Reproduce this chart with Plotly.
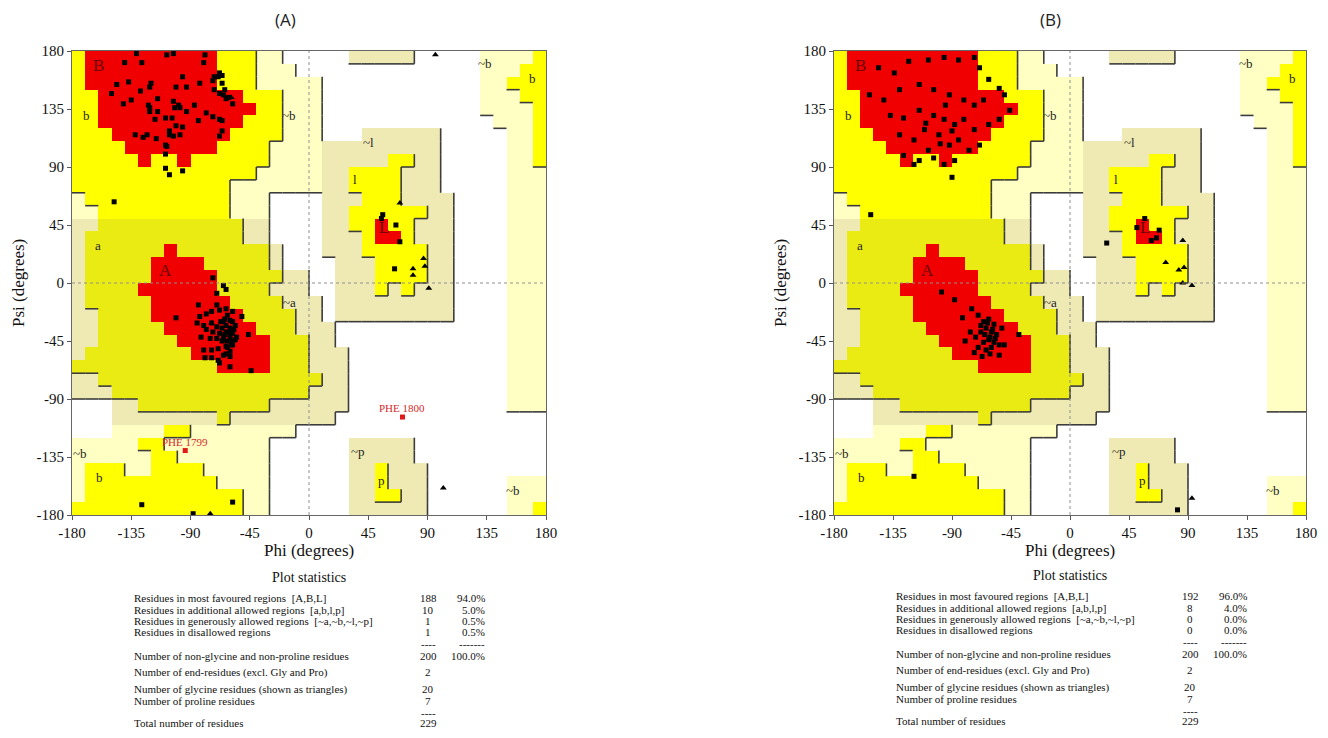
import plotly.graph_objects as go

# ---------------- region map (PROCHECK-style, 10 degree cells) ----------------
# rows run from psi 180 (top) down to psi -180, columns from phi -180 to 180
# '.' disallowed, 'G' generous (~b), 'K' generous (~a ~l ~p), 'Y' additional, 'A' additional (a), 'R' core
REGION_ROWS = [
    "YRRRRRRRRRRYYYGG.....KKKKK.....GGGGY",
    "YRRRRRRRRRRYYYGGG..............GGGYY",
    "YRRRRRRRRRRYYYGGGGG............GGYYY",
    "YYRRRRRRRRRRRYYYGGG............GGGYY",
    "YYRRRRRRRRRRRRYYGGG............GGGGY",
    "YYRRRRRRRRRRRYYYGGG.............GGGY",
    "YYYRRRRRRRRRYYYYGGG...KKKKKK.....GGY",
    "YYYYRRRRRRRYYYYGGGGKKKKKKKKK.....GGY",
    "YYYYYRYYRYYYYYYGGGGKKKKKYYKK.....GGY",
    "YYYYYYYYYYYYYYGGGGGKKYYYYKKK.....GGG",
    "YYYYYYYYYYYYGGGGGGGKKYYYYKKK.....GGG",
    "GYYYYYYYYYYYGGG....KKKYYYKKKK....GGG",
    "GGYYYYYYYYYYGGG....KKYYYYYYKK....GGG",
    "KKAAAAAAAAAAAKK....KKYYRYYKKK....GGG",
    "KAAAAAAAAAAAAKK....KKKYRRYKKK....GGG",
    "KAAAAAARAAAAAAAK...KKKYYYYYKK....GGG",
    "KAAAAARRRRAAAAAK....KKKYYYYKK....GGG",
    "KAAAAARRRRRAAAAAKK..KKKYYYYKK....GGG",
    "KAAAARRRRRRAAAAKKK..KKKYKYKKK....GGG",
    "KAAAAARRRRRRAAAAKKK.KKKKKKKKK....GGG",
    "KKAAAARRRRRRRAAAAKK.KKKKKKKKK....GGG",
    "KKAAAAARRRRRRRAAAKKK.............GGG",
    "KKAAAAAARRRRRRRAAAKK.............GGG",
    "KAAAAAAAARRRRRRAAAKKK............GGG",
    "AAAAAAAAAAARRRRAAAKKK............GGG",
    "KKAAAAAAAAAAAAAAAAAKK............GGG",
    "KKKAAAAAAAAAAAAAAAKKK............GGG",
    "...KKAAAAAAAAAAKKKKKK............GGG",
    "...KKKKKKKKAKKKKKKKK................",
    "...GGGGYYGGGGGGGG...................",
    "GGGGGYYGGGGGGGG......KKKKK..........",
    "GGGGGGYYGGGGGGG......KKKKK..........",
    "GYYYGGYYYYGGGGG......KKYKKK.........",
    "GYYYYYYYYYYGGGG......KKYKKK......GGG",
    "GYYYYYYYYYYYYGG......KKYYKK......GGG",
    "YYYYYYYYYYYYYGG......KKKKKK......GGY",
]
REGION_CODES = {".": 0, "G": 1, "K": 2, "Y": 3, "A": 4, "R": 5}
REGION_COLORS = ["#FFFFFF", "#FFFFC4", "#EFEAB4", "#FFFF00", "#EBEB14", "#F00000"]
PHI_CENTERS = [-175 + 10 * i for i in range(36)]
PSI_CENTERS = [175 - 10 * i for i in range(36)]

TICK_VALUES = [-180, -135, -90, -45, 0, 45, 90, 135, 180]
TICK_LABELS = ["-180", "-135", "-90", "-45", "0", "45", "90", "135", "180"]

REGION_LABEL_TEXT = ["B", "b", "~b", "a", "A", "~a", "~l", "l", "L", "~b", "b", "~b", "b", "~p", "p", "~b"]
REGION_LABEL_PHI = [-160, -169, -15, -160, -109, -15, 45, 35, 57, 134, 170, -174, -159, 37, 55, 155]
REGION_LABEL_PSI = [169, 130, 130, 29, 10, -15, 109, 80, 43, 170, 159, -132, -151, -131, -153, -161]

# ---------------- residues, panel A ----------------
A_RES_PHI = [-131, -108, -103, -79, -140, -127, -80, -68, -72, -96, -120, -146, -137, -150, -128, -121,
             -101, -93, -83, -73, -64, -65, -61, -141, -135, -115, -122, -121, -103, -99, -102, -98,
             -87, -121, -115, -93, -78, -73, -68, -104, -109, -117, -101, -96, -106, -84, -66, -132,
             -126, -123, -116, -106, -103, -98, -109, -108, -109, -109, -106, -96, -148,
             -69, -66, -66, -72, -68, -63, -58, -66, -68,
             -73, -65, -63, -70, -84, -70, -101, -83, -78, -74, -68, -63, -58, -51, -85, -80, -74, -70,
             -65, -60, -56, -78, -73, -68, -63, -58, -82, -75, -70, -65, -60, -55, -46, -80, -74, -69,
             -63, -58, -79, -74, -69, -65, -60, -68, -60, -44,
             -62, -60, -58, -64, -66, -62, -60, -56, -64, -58, -66, -62, -60, -63, -57, -59, -65, -61,
             -63, -67,
             -127, -58, -88,
             56, 55, 66, 69, 65]
A_RES_PSI = [178, 177, 178, 177, 171, 171, 171, 163, 160, 160, 155, 154, 156, 147, 149, 152,
             152, 152, 155, 157, 150, 146, 144, 139, 142, 143, 138, 136, 141, 138, 136, 136,
             138, 133, 133, 133, 132, 129, 127, 128, 128, 127, 122, 121, 118, 126, 118, 115,
             113, 115, 112, 115, 114, 115, 107, 106, 100, 89, 84, 87, 63,
             160, 161, 155, 150, 147, 143, 139, 126, 114,
             4, -2, -5, -8, -17, -17, -27, -26, -24, -22, -21, -20, -22, -26, -31, -33, -31, -34,
             -30, -29, -33, -36, -38, -39, -38, -39, -42, -43, -43, -44, -43, -42, -40, -52, -52, -51,
             -49, -48, -58, -58, -60, -56, -57, -62, -65, -68,
             -25, -35, -45, -40, -35, -45, -40, -44, -28, -30, -45, -50, -53, -33, -36, -48, -42, -38,
             -55, -30,
             -172, -170, -179,
             53, 50, 45, 32, 11]
A_GLY_PHI = [96, -59, -74, -75, 69, 87, 79, 88, 79, 91, 102]
A_GLY_PSI = [177, 144, -31, -179, 62, 19, 11, 13, 6, -4, -159]
A_FLAG_NAME = ["PHE 1799", "PHE 1800"]
A_FLAG_PHI = [-94, 71]
A_FLAG_PSI = [-130, -104]

# ---------------- residues, panel B ----------------
B_RES_PHI = [-146, -134, -123, -108, -96, -85, -73, -69, -62, -54, -50, -153, -142, -130, -115, -104,
             -92, -81, -73, -66, -137, -127, -115, -104, -96, -88, -81, -73, -62, -54, -46, -130,
             -119, -111, -100, -92, -85, -77, -69, -127, -115, -104, -96, -88, -119, -108, -99, -90,
             -110, -95, -152, -90, -119,
             -98, -88, -82, -75, -70, -66, -62, -58, -64, -60, -56, -68, -72, -62, -58, -66, -70, -64,
             -60, -54, -73, -67, -54, -39, -50, -61, -65, -59, -63, -57, -68, -61, -76, -80, -52,
             57, 51, 66, 28, 62, 68, 82]
B_RES_PSI = [167, 163, 172, 173, 175, 173, 175, 167, 158, 151, 146, 146, 142, 150, 154, 150,
             146, 142, 138, 142, 130, 128, 134, 130, 127, 123, 127, 119, 123, 127, 134, 115,
             111, 119, 115, 107, 111, 103, 107, 99, 95, 97, 92, 95, 92, 103, 108, 118,
             124, 138, 53, 82, -150,
             -7, -13, -27, -20, -25, -30, -28, -32, -35, -38, -40, -38, -42, -44, -46, -46, -50, -52,
             -50, -48, -54, -57, -56, -40, -48, -42, -40, -36, -31, -43, -33, -55, -38, -45, -35,
             50, 43, 35, 31, 33, 41, -176]
B_GLY_PHI = [86, 87, 86, 93, 73, 83, 93]
B_GLY_PSI = [33, 12, 0, -2, 16, 10, -167]

# ---------------- plot statistics ----------------
STAT_LABELS = [
    "Residues in most favoured regions  [A,B,L]",
    "Residues in additional allowed regions  [a,b,l,p]",
    "Residues in generously allowed regions  [~a,~b,~l,~p]",
    "Residues in disallowed regions",
    "",
    "Number of non-glycine and non-proline residues",
    "Number of end-residues (excl. Gly and Pro)",
    "Number of glycine residues (shown as triangles)",
    "Number of proline residues",
    "",
    "Total number of residues",
]
A_STAT_COUNTS = ["188", "10", "1", "1", "----", "200", "2", "20", "7", "----", "229"]
A_STAT_PCTS = ["94.0%", "5.0%", "0.5%", "0.5%", "-------", "100.0%", "", "", "", "", ""]
B_STAT_COUNTS = ["192", "8", "0", "0", "----", "200", "2", "20", "7", "----", "229"]
B_STAT_PCTS = ["96.0%", "4.0%", "0.0%", "0.0%", "-------", "100.0%", "", "", "", "", ""]

# ---------------- figure ----------------
# the page body keeps an 8 px margin, so the figure is 16 px smaller than the window
OFF = 8
W, H = 1328 - 2 * OFF, 738 - 2 * OFF
SERIF = "Liberation Serif"


def px(x):
    return (x - OFF) / W


def py(y):
    return 1 - (y - OFF) / H


z = [[REGION_CODES[c] for c in row] for row in REGION_ROWS]
n = len(REGION_COLORS)
colorscale = []
for k, c in enumerate(REGION_COLORS):
    colorscale.append([k / n, c])
    colorscale.append([(k + 1) / n, c])

# boundary lines: right / bottom edges of a more favourable cell
LEVEL = {".": 0, "G": 1, "K": 1, "Y": 2, "A": 2, "R": 2}
seg_x, seg_y = [], []
for i, row in enumerate(REGION_ROWS):
    for j, c in enumerate(row):
        lv = LEVEL[c]
        x_left = PHI_CENTERS[j] - 5
        x_right = PHI_CENTERS[j] + 5
        y_top = PSI_CENTERS[i] + 5
        y_bot = PSI_CENTERS[i] - 5
        if j + 1 < len(row) and lv > LEVEL[row[j + 1]]:
            seg_x += [x_right, x_right, None]
            seg_y += [y_top, y_bot, None]
        if i + 1 < len(REGION_ROWS) and lv > LEVEL[REGION_ROWS[i + 1][j]]:
            seg_x += [x_left, x_right, None]
            seg_y += [y_bot, y_bot, None]

fig = go.Figure()

panels = [
    dict(xa="x", ya="y", res=(A_RES_PHI, A_RES_PSI), gly=(A_GLY_PHI, A_GLY_PSI),
         flag=(A_FLAG_NAME, A_FLAG_PHI, A_FLAG_PSI), left=72, right=546, title="(A)", title_x=285,
         counts=A_STAT_COUNTS, pcts=A_STAT_PCTS, dy=0),
    dict(xa="x2", ya="y2", res=(B_RES_PHI, B_RES_PSI), gly=(B_GLY_PHI, B_GLY_PSI),
         flag=([], [], []), left=834, right=1306, title="(B)", title_x=1050,
         counts=B_STAT_COUNTS, pcts=B_STAT_PCTS, dy=-2),
]

annotations = []
shapes = []
TOP, BOT = 51, 515


def note(**kw):
    kw.setdefault("showarrow", False)
    kw.setdefault("xanchor", "center")
    kw.setdefault("yanchor", "middle")
    annotations.append(kw)


for p in panels:
    xa, ya = p["xa"], p["ya"]
    fig.add_trace(go.Heatmap(x=PHI_CENTERS, y=PSI_CENTERS, z=z, colorscale=colorscale,
                             zmin=-0.5, zmax=n - 0.5, showscale=False, hoverinfo="skip",
                             xaxis=xa, yaxis=ya))
    fig.add_trace(go.Scatter(x=seg_x, y=seg_y, mode="lines", line=dict(color="#3c3c3c", width=1.6),
                             hoverinfo="skip", showlegend=False, xaxis=xa, yaxis=ya))
    fig.add_trace(go.Scatter(x=p["res"][0], y=p["res"][1], mode="markers",
                             marker=dict(symbol="square", size=5, color="black"),
                             hoverinfo="skip", showlegend=False, xaxis=xa, yaxis=ya))
    fig.add_trace(go.Scatter(x=p["gly"][0], y=p["gly"][1], mode="markers",
                             marker=dict(symbol="triangle-up", size=6, color="black"),
                             hoverinfo="skip", showlegend=False, xaxis=xa, yaxis=ya))
    names, fphi, fpsi = p["flag"]
    if names:
        fig.add_trace(go.Scatter(x=fphi, y=fpsi, mode="markers",
                                 marker=dict(symbol="square", size=5, color="#E01818"),
                                 hoverinfo="skip", showlegend=False, xaxis=xa, yaxis=ya))
        for nm, a, b in zip(names, fphi, fpsi):
            note(x=a, y=b, xref=xa, yref=ya, text=nm, yshift=9,
                 font=dict(family=SERIF, size=11, color="#D42A2A"))
    # region labels
    for t, a, b in zip(REGION_LABEL_TEXT, REGION_LABEL_PHI, REGION_LABEL_PSI):
        big = t in ("A", "B", "L")
        note(x=a, y=b, xref=xa, yref=ya, text=t,
             font=dict(family=SERIF, size=17 if big else 13, color="#6A0000" if big else "#222222"))
    # dotted zero lines
    shapes.append(dict(type="line", xref=xa, yref=ya, x0=0, x1=0, y0=-180, y1=180,
                       line=dict(color="#8f8f8f", width=1, dash="dot"), layer="above"))
    shapes.append(dict(type="line", xref=xa, yref=ya, x0=-180, x1=180, y0=0, y1=0,
                       line=dict(color="#8f8f8f", width=1, dash="dot"), layer="above"))
    cx = (p["left"] + p["right"]) / 2
    # titles
    note(x=px(p["title_x"]), y=py(20), xref="paper", yref="paper", text=p["title"],
         font=dict(family="Open Sans", size=17, color="#222"))
    note(x=px(cx), y=py(550), xref="paper", yref="paper", text="Phi (degrees)",
         font=dict(family=SERIF, size=17, color="#111"))
    note(x=px(p["left"] - 54), y=py((TOP + BOT) / 2), xref="paper", yref="paper",
         text="Psi (degrees)", textangle=-90, font=dict(family=SERIF, size=17, color="#111"))
    # statistics block
    dy = p["dy"]
    note(x=px(cx), y=py(577 + dy), xref="paper", yref="paper", text="Plot statistics",
         font=dict(family=SERIF, size=14, color="#111"))
    stat_y = [598, 610, 621, 632, 644, 656, 672, 689, 701, 713, 723]
    lx = p["left"] + 60
    for lab, cnt, pct, yy in zip(STAT_LABELS, p["counts"], p["pcts"], stat_y):
        f = dict(family=SERIF, size=11, color="#111")
        if lab:
            note(x=px(lx), y=py(yy + dy), xref="paper", yref="paper", text=lab, xanchor="left", font=f)
        if cnt:
            note(x=px(p["left"] + 356), y=py(yy + dy), xref="paper", yref="paper", text=cnt, font=f)
        if pct:
            note(x=px(p["left"] + 415), y=py(yy + dy), xref="paper", yref="paper", text=pct,
                 xanchor="right", font=f)

axis_common = dict(range=[-180, 180], tickvals=TICK_VALUES, ticktext=TICK_LABELS, ticks="outside",
                   ticklen=4, tickcolor="#555", showgrid=False, zeroline=False, showline=True,
                   mirror=True, linecolor="#666", linewidth=1, automargin=False,
                   tickfont=dict(family=SERIF, size=15, color="#111"))

ydom = [py(BOT), py(TOP)]
fig.update_layout(
    width=W, height=H,
    margin=dict(l=0, r=0, t=0, b=0, pad=0, autoexpand=False),
    paper_bgcolor="white", plot_bgcolor="white",
    showlegend=False,
    xaxis=dict(domain=[px(72), px(546)], anchor="y", **axis_common),
    yaxis=dict(domain=ydom, anchor="x", **axis_common),
    xaxis2=dict(domain=[px(834), px(1306)], anchor="y2", **axis_common),
    yaxis2=dict(domain=ydom, anchor="x2", **axis_common),
    annotations=annotations,
    shapes=shapes,
)

fig.write_html("out.html")
